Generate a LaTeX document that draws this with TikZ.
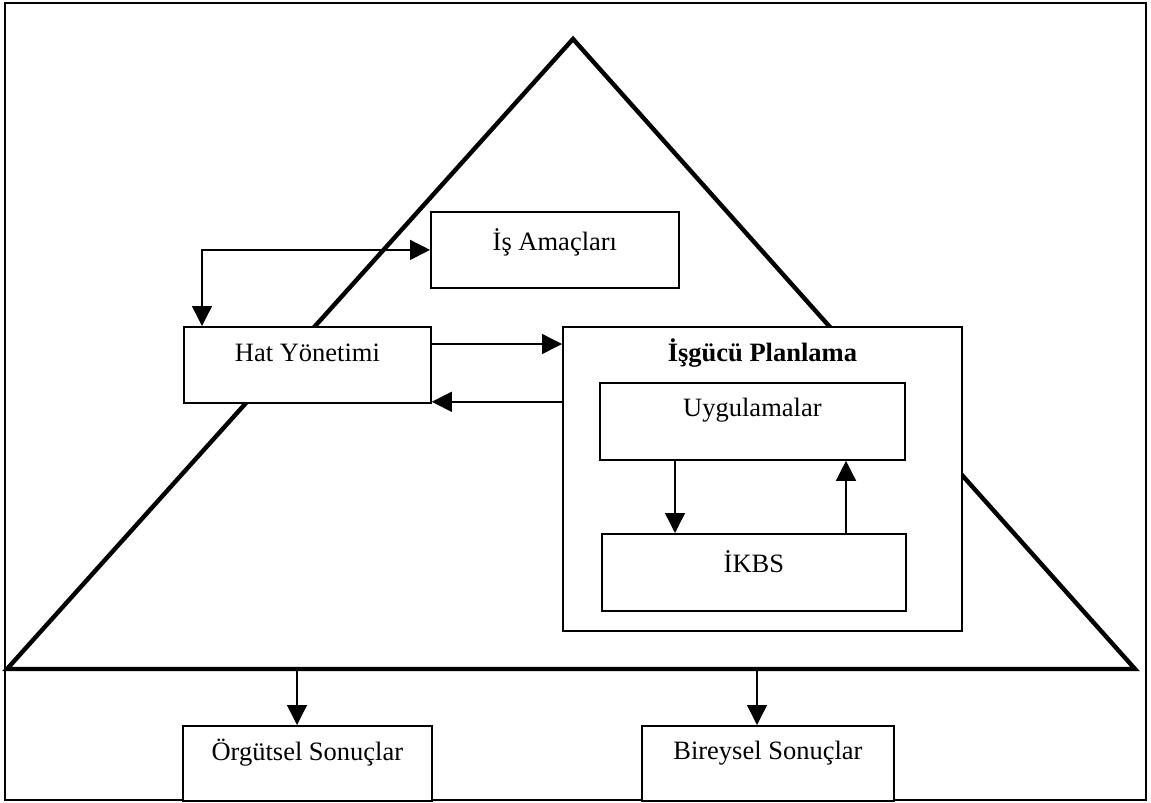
\documentclass[tikz,border=0pt]{standalone}
\usepackage{fontspec}
\setmainfont{Liberation Serif}
\usetikzlibrary{arrows.meta,calc}
\begin{document}
\begin{tikzpicture}[x=1pt,y=-1pt,
  box/.style={draw, fill=white, line width=1.8pt, inner sep=0pt, anchor=north west},
  lbl/.style={font=\fontsize{26.5}{30}\selectfont, inner sep=0pt},
  tip/.tip={Triangle[length=20pt,width=20pt]},
  conn/.style={line width=1.4pt, -tip},
  dconn/.style={line width=1.4pt, tip-tip},
]
\useasboundingbox (0,0) rectangle (1151,803);

% outer frame
\draw[line width=1.5pt] (5,3) rectangle (1146,800);

% the pyramid
\coordinate (apex) at (573,39);
\coordinate (baseL) at (7,669);
\coordinate (baseR) at (1135,669);
\draw[line width=4.4pt, line join=miter] (apex) -- (baseR) -- (baseL) -- cycle;

% boxes
\node[box, minimum width=247pt, minimum height=76pt] (hat) at (183,326) {};
\node[lbl] (hatT) at ($(hat.north)+(0,27)$) {Hat Yönetimi};

\node[box, minimum width=248pt, minimum height=76pt] (is) at (430,211) {};
\node[lbl] (isT) at ($(is.north)+(0,31)$) {İş Amaçları};

\node[box, minimum width=399pt, minimum height=304pt] (plan) at (562,326) {};
\node[lbl, font=\fontsize{26.5}{30}\selectfont\bfseries] (planT) at ($(plan.north)+(0,27)$) {İşgücü Planlama};

\node[box, minimum width=305pt, minimum height=77pt] (uyg) at (599,382) {};
\node[lbl] (uygT) at ($(uyg.north)+(0,28)$) {Uygulamalar};

\node[box, minimum width=304pt, minimum height=77pt] (ikbs) at (601,533) {};
\node[lbl] (ikbsT) at ($(ikbs.north)+(0,29)$) {İKBS};

\node[box, minimum width=249pt, minimum height=75pt] (org) at (182,725) {};
\node[lbl] (orgT) at ($(org.north)+(0,28)$) {Örgütsel Sonuçlar};

\node[box, minimum width=252pt, minimum height=75pt] (bir) at (641,725) {};
\node[lbl] (birT) at ($(bir.north)+(0,28)$) {Bireysel Sonuçlar};

% connectors
\coordinate (loop) at ($(hat.north west)+(19,0)$);
\draw[dconn] (loop) |- (is.west);

\coordinate (h1) at ($(hat.north east)+(0,18)$);
\draw[conn] (h1) -- (h1 -| plan.west);
\coordinate (h2) at ($(hat.south east)+(0,-2)$);
\draw[conn] (h2 -| plan.west) -- (h2);

\coordinate (u1) at ($(uyg.south west)+(76,0)$);
\draw[conn] (u1) -- (u1 |- ikbs.north);
\coordinate (k1) at ($(ikbs.north west)+(245,0)$);
\draw[conn] (k1) -- (k1 |- uyg.south);

\coordinate (b1) at (297,669);
\draw[conn] (b1) -- (b1 |- org.north);
\coordinate (b2) at (757,669);
\draw[conn] (b2) -- (b2 |- bir.north);
\end{tikzpicture}
\end{document}
